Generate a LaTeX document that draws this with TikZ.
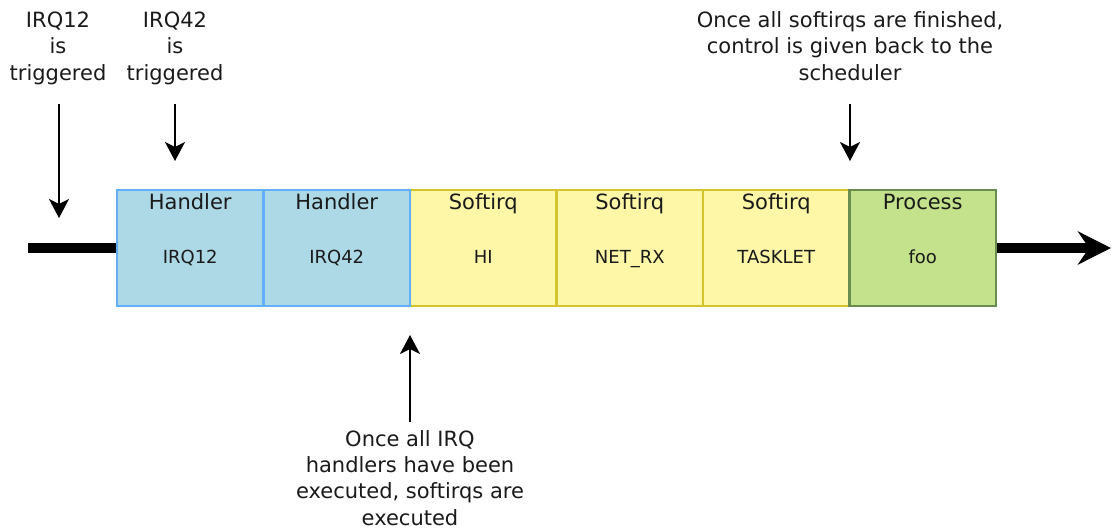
\documentclass[tikz,border=0pt]{standalone}
\usepackage{fontspec}
\setmainfont{DejaVu Sans}
\usetikzlibrary{arrows.meta}
\definecolor{bluefill}{HTML}{ADD8E6}
\definecolor{blueline}{HTML}{62AEFF}
\definecolor{yelfill}{HTML}{FFF7A8}
\definecolor{yelline}{HTML}{D6C42E}
\definecolor{grnfill}{HTML}{C3E28B}
\definecolor{grnline}{HTML}{6B8C4F}
\definecolor{txt}{HTML}{1A1A1A}
\tikzset{
  slot/.style={rectangle, minimum width=146.5pt, minimum height=116pt, inner sep=0pt, line width=2.2pt},
  hbox/.style={slot, fill=bluefill, draw=blueline},
  sbox/.style={slot, fill=yelfill, draw=yelline},
  pbox/.style={slot, fill=grnfill, draw=grnline},
  ttl/.style={anchor=base, inner sep=0pt, text=txt, font=\fontsize{21}{26}\selectfont},
  sub/.style={anchor=base, inner sep=0pt, text=txt, font=\fontsize{18}{22}\selectfont},
  note/.style={anchor=base, inner sep=0pt, align=center, text=txt, font=\fontsize{21}{26.3}\selectfont},
  thin arrow/.style={line width=2pt, -{Stealth[length=19pt,width=20pt,inset=5pt]}},
  thick line/.style={line width=10.5pt},
}
\begin{document}
\begin{tikzpicture}[x=1pt,y=-1pt]
\useasboundingbox (0,0) rectangle (1111,528);
% boxes (yellow first, then green, then blue so shared borders match)
\node[sbox] (s1) at (483.25,248) {};
\node[sbox] (s2) at (629.75,248) {};
\node[sbox] (s3) at (776.25,248) {};
\node[pbox] (p1) at (922.75,248) {};
\node[hbox] (h1) at (190.25,248) {};
\node[hbox] (h2) at (336.75,248) {};
% box texts
\foreach \b/\t/\s in {h1/Handler/IRQ12, h2/Handler/IRQ42, s1/Softirq/HI, s2/Softirq/NET\_RX, s3/Softirq/TASKLET, p1/Process/foo}{
  \node[ttl] (\b t) at ([yshift=-21pt]\b.north) {\t};
  \node[sub] (\b s) at ([yshift=-75pt]\b.north) {\s};
}
% time line
\coordinate (start) at (28,248);
\coordinate (stop) at (1111,248);
\draw[thick line] (start) -- (h1.west);
\draw[thick line, -{Stealth[length=33pt,width=33pt,inset=11pt]}] (p1.east) -- (stop);
% notes (anchor=base is the baseline of the last line)
\node[note] (n1) at (58,80) {IRQ12\\is\\triggered};
\node[note] (n2) at (175,80) {IRQ42\\is\\triggered};
\node[note] (n3) at (850,80) {Once all softirqs are finished,\\control is given back to the\\scheduler};
\node[note] (n4) at (410,525) {Once all IRQ\\handlers have been\\executed, softirqs are\\executed};
% arrows
\coordinate (a1s) at (59,104); \coordinate (a1e) at (59,218);
\coordinate (a2s) at (175,104); \coordinate (a2e) at (175,161);
\coordinate (a3s) at (850,104); \coordinate (a3e) at (850,161);
\coordinate (a4s) at (410,422); \coordinate (a4e) at (410,335);
\draw[thin arrow] (a1s) -- (a1e);
\draw[thin arrow] (a2s) -- (a2e);
\draw[thin arrow] (a3s) -- (a3e);
\draw[thin arrow] (a4s) -- (a4e);
\end{tikzpicture}
\end{document}
